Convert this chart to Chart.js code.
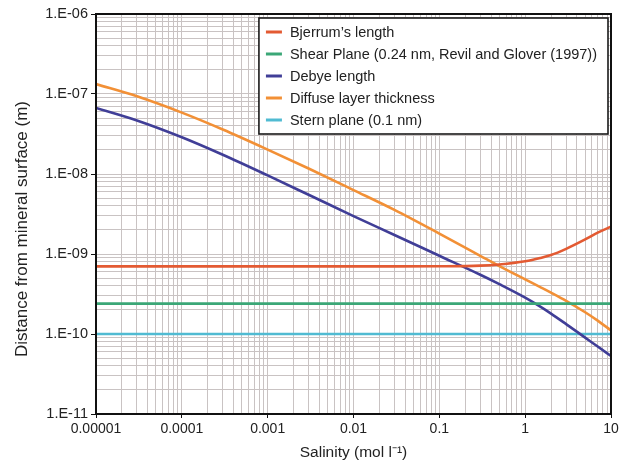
<!DOCTYPE html>
<html>
<head>
<meta charset="utf-8">
<title>Distance from mineral surface vs salinity</title>
<script src="https://cdn.jsdelivr.net/npm/chart.js@4.4.1/dist/chart.umd.min.js"></script>
<style>
  html, body { margin: 0; padding: 0; background: #fff; }
  #wrap { width: 625px; height: 465px; position: relative; }
</style>
</head>
<body>
<div id="wrap"><canvas id="chart-salinity"></canvas></div>
<script>
// Data - Start
// --------------------------------------------------
var salinity         = [1e-5, 3e-5, 1e-4, 3e-4, 1e-3, 3e-3, 0.01, 0.03, 0.1, 0.3, 0.5, 1, 1.5, 2, 3, 5, 7, 10];
var bjerrumLength    = [7e-10, 7e-10, 7e-10, 7e-10, 7e-10, 7e-10, 7e-10, 7e-10, 7.02e-10, 7.15e-10, 7.4e-10, 8.1e-10, 8.9e-10, 9.7e-10, 1.16e-9, 1.52e-9, 1.85e-9, 2.2e-9];
var debyeLength      = [6.7e-8, 4.67e-8, 2.88e-8, 1.74e-8, 9.6e-9, 5.5e-9, 2.98e-9, 1.73e-9, 9.5e-10, 5.5e-10, 4.2e-10, 2.85e-10, 2.2e-10, 1.8e-10, 1.33e-10, 9.0e-11, 6.97e-11, 5.3e-11];
var diffuseThickness = [1.33e-7, 9.35e-8, 5.85e-8, 3.6e-8, 2.02e-8, 1.17e-8, 6.3e-9, 3.56e-9, 1.8e-9, 9.5e-10, 7.06e-10, 4.82e-10, 3.86e-10, 3.29e-10, 2.6e-10, 1.87e-10, 1.47e-10, 1.11e-10];

var planeSalinity = [1e-5, 10];
var shearPlane    = [2.4e-10, 2.4e-10];
var sternPlane    = [1e-10, 1e-10];

var xMajorTicks = [1e-5, 1e-4, 1e-3, 0.01, 0.1, 1, 10];
var xTickLabels = ['0.00001', '0.0001', '0.001', '0.01', '0.1', '1', '10'];
var yMajorTicks = [1e-11, 1e-10, 1e-9, 1e-8, 1e-7, 1e-6];
var yTickLabels = ['1.E-11', '1.E-10', '1.E-09', '1.E-08', '1.E-07', '1.E-06'];

var xTitle = 'Salinity (mol l\u207B\u00B9)';
var yTitle = 'Distance from mineral surface (m)';
// Data - End
// --------------------------------------------------

function toPoints(xs, ys) {
  return xs.map(function(x, i) { return {x: x, y: ys[i]}; });
}

// major decades plus 2..9 minors, for the log grid
function logTicks(majors) {
  var out = [];
  majors.forEach(function(m, i) {
    out.push({value: m, major: true});
    if (i < majors.length - 1) {
      for (var k = 2; k <= 9; k++) out.push({value: m * k, major: false});
    }
  });
  return out;
}

function labelFor(majors, labels, value) {
  for (var i = 0; i < majors.length; i++) {
    if (Math.abs(majors[i] - value) / majors[i] < 1e-6) return labels[i];
  }
  return '';
}

var FONT = "'Liberation Sans', Arial, sans-serif";
var GRID = '#c9c3c3';

function majorTick(c) {
  return c.tick && c.tick.major ? '#111' : 'rgba(0,0,0,0)';
}

// Frame, y title + legend box plugin
// --------------------------------------------------
var frameLegend = {
  id: 'frameLegend',
  afterDraw: function(chart) {
    var ctx = chart.ctx, a = chart.chartArea;
    ctx.save();
    ctx.strokeStyle = '#111';
    ctx.lineWidth = 2;
    ctx.strokeRect(a.left, a.top, a.right - a.left, a.bottom - a.top);

    // y axis title, sits a little below the plot centre in the original
    ctx.save();
    ctx.translate(22, (a.top + a.bottom) / 2 + 15);
    ctx.rotate(-Math.PI / 2);
    ctx.font = '17px ' + FONT;
    ctx.fillStyle = '#222';
    ctx.textAlign = 'center';
    ctx.textBaseline = 'middle';
    ctx.fillText(yTitle, 0, 0);
    ctx.restore();

    var sets = chart.data.datasets;
    ctx.font = '14.5px ' + FONT;
    var maxW = 0;
    sets.forEach(function(d) { maxW = Math.max(maxW, ctx.measureText(d.label).width); });
    var rowH = 22, padX = 7, lineLen = 16, gap = 8;
    var w = padX + lineLen + gap + maxW + 11;
    var h = rowH * sets.length + 6;
    var x = a.right - 3 - w, y = a.top + 4;
    ctx.fillStyle = '#fff';
    ctx.fillRect(x, y, w, h);
    ctx.lineWidth = 1.6;
    ctx.strokeStyle = '#1a1a1a';
    ctx.strokeRect(x, y, w, h);
    ctx.textBaseline = 'middle';
    sets.forEach(function(d, i) {
      var cy = y + 3 + rowH * i + rowH / 2;
      ctx.strokeStyle = d.borderColor;
      ctx.lineWidth = 3;
      ctx.beginPath();
      ctx.moveTo(x + padX, cy);
      ctx.lineTo(x + padX + lineLen, cy);
      ctx.stroke();
      ctx.fillStyle = '#222';
      ctx.fillText(d.label, x + padX + lineLen + gap, cy + 0.5);
    });
    ctx.restore();
  }
};

// Chart - Start
// --------------------------------------------------
var configSalinity = document.getElementById('chart-salinity').getContext('2d');
var SalinityChart = new Chart(configSalinity, {
  type: 'line',
  data: {
    datasets: [
      {
        label: "Bjerrum\u2019s length",
        data: toPoints(salinity, bjerrumLength),
        borderColor: '#e35a32'
      },
      {
        label: 'Shear Plane (0.24 nm, Revil and Glover (1997))',
        data: toPoints(planeSalinity, shearPlane),
        borderColor: '#3ba777'
      },
      {
        label: 'Debye length',
        data: toPoints(salinity, debyeLength),
        borderColor: '#403e97'
      },
      {
        label: 'Diffuse layer thickness',
        data: toPoints(salinity, diffuseThickness),
        borderColor: '#f29036'
      },
      {
        label: 'Stern plane (0.1 nm)',
        data: toPoints(planeSalinity, sternPlane),
        borderColor: '#50bbd2'
      }
    ]
  },
  options: {
    responsive: true,
    maintainAspectRatio: false,
    animation: false,
    layout: { padding: { left: 0, right: 14, top: 14, bottom: 0 } },
    elements: {
      point: { radius: 0 },
      line: { borderWidth: 2.6, fill: false, cubicInterpolationMode: 'monotone' }
    },
    plugins: {
      legend: { display: false },
      tooltip: { enabled: false }
    },
    scales: {
      x: {
        type: 'logarithmic',
        min: 1e-5,
        max: 10,
        afterBuildTicks: function(scale) { scale.ticks = logTicks(xMajorTicks); },
        afterFit: function(scale) { scale.height = 51; },
        ticks: {
          autoSkip: false,
          maxRotation: 0,
          padding: 3,
          color: '#222',
          font: { family: FONT, size: 14 },
          callback: function(value) { return labelFor(xMajorTicks, xTickLabels, value); }
        },
        grid: {
          color: GRID,
          lineWidth: 1,
          tickLength: 4,
          tickColor: majorTick
        },
        border: { color: '#111', width: 2 },
        title: {
          display: true,
          text: xTitle,
          color: '#222',
          font: { family: FONT, size: 15.5 },
          padding: { top: 2, bottom: 3 }
        }
      },
      y: {
        type: 'logarithmic',
        min: 1e-11,
        max: 1e-6,
        afterBuildTicks: function(scale) { scale.ticks = logTicks(yMajorTicks); },
        afterFit: function(scale) { scale.width = 96; },
        ticks: {
          autoSkip: false,
          padding: 3,
          color: '#222',
          font: { family: FONT, size: 14.5 },
          callback: function(value) { return labelFor(yMajorTicks, yTickLabels, value); }
        },
        grid: {
          color: GRID,
          lineWidth: 1,
          tickLength: 5,
          tickColor: majorTick
        },
        border: { color: '#111', width: 2 },
        title: { display: false }
      }
    }
  },
  plugins: [frameLegend]
});
// Chart - End
// --------------------------------------------------
</script>
</body>
</html>
